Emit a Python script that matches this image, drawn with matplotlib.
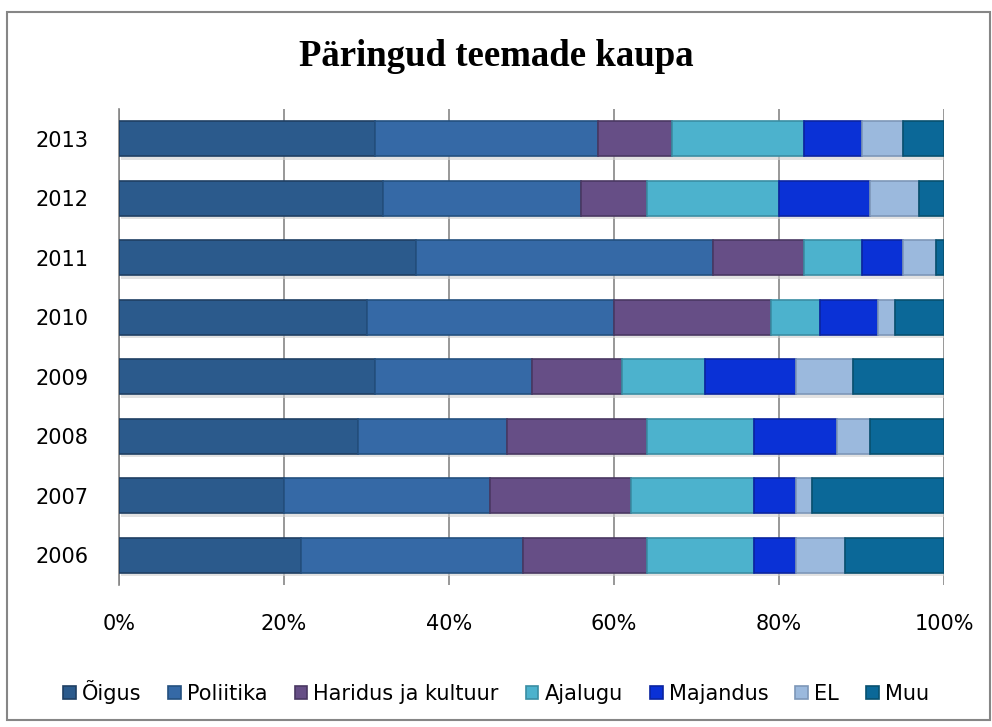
import matplotlib
matplotlib.use("Agg")
import matplotlib.pyplot as plt
from matplotlib.patches import Rectangle
import numpy as np

years = ["2006", "2007", "2008", "2009", "2010", "2011", "2012", "2013"]
series_names = ["Õigus", "Poliitika", "Haridus ja kultuur", "Ajalugu", "Majandus", "EL", "Muu"]
oigus      = [22, 20, 29, 31, 30, 36, 32, 31]
poliitika  = [27, 25, 18, 19, 30, 36, 24, 27]
haridus    = [15, 17, 17, 11, 19, 11, 8, 9]
ajalugu    = [13, 15, 13, 10, 6, 7, 16, 16]
majandus   = [5, 5, 10, 11, 7, 5, 11, 7]
el         = [6, 2, 4, 7, 2, 4, 6, 5]
muu        = [12, 16, 9, 11, 6, 1, 3, 5]
x_ticks = [0, 20, 40, 60, 80, 100]
x_tick_labels = ["0%", "20%", "40%", "60%", "80%", "100%"]

colors = ["#2B5A8C", "#3569A6", "#664E86", "#4CB2CD", "#0A31D6", "#9BB9DD", "#0B6898"]
edge_colors = ["#1F3F63", "#24507F", "#4A3862", "#3A8DA3", "#0A24A0", "#7D97B8", "#08506F"]

fig = plt.figure(figsize=(9.92, 7.27), dpi=100)
ax = fig.add_axes([119/992, 1-585/727, (944-119)/992, (585-109)/727])

data = np.array([oigus, poliitika, haridus, ajalugu, majandus, el, muu], dtype=float)
totals = data.sum(axis=0)
pct = data / totals * 100
ypos = np.arange(len(years))
left = np.zeros(len(years))
bar_h = 0.59
# soft shadow
ax.barh(ypos - 0.06, 100, height=bar_h, left=0.3, color="#d0d0d0", alpha=0.6, zorder=1)
for i, name in enumerate(series_names):
    ax.barh(ypos, pct[i], height=bar_h, left=left, color=colors[i],
            edgecolor=edge_colors[i], linewidth=1.2, label=name, zorder=3)
    left += pct[i]

ax.set_xlim(0, 100)
ax.set_ylim(-0.5, len(years) - 0.5)
ax.set_xticks(x_ticks)
ax.set_xticklabels(x_tick_labels, fontsize=15)
ax.set_yticks(ypos)
ax.set_yticklabels(years, fontsize=15)
ax.grid(axis="x", color="#868686", linewidth=1.2, zorder=0)
ax.set_axisbelow(True)
for s in ["top", "right", "bottom"]:
    ax.spines[s].set_visible(False)
ax.spines["left"].set_color("#868686")
ax.spines["left"].set_linewidth(1.2)
ax.tick_params(axis="x", length=0, pad=21)
ax.tick_params(axis="y", length=0, pad=22)

fig.text(0.5, 1-57/727, "Päringud teemade kaupa", ha="center", va="center",
         fontsize=26.5, fontweight="bold", family="Liberation Serif")

leg = fig.legend(loc="center", bbox_to_anchor=(0.5, 1-692/727), ncol=7, frameon=False,
                 fontsize=15, handlelength=0.6, handleheight=0.6, handletextpad=0.3,
                 columnspacing=1.3)

fig.patches.append(Rectangle((7/992, 1-720/727), (990-7)/992, (720-12)/727,
                             transform=fig.transFigure, fill=False,
                             edgecolor="#868686", linewidth=1.5))

fig.savefig("out.png", dpi=100)
